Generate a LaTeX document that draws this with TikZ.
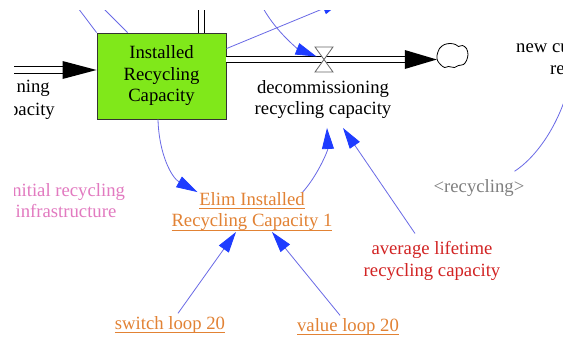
\documentclass[tikz,border=0pt]{standalone}
\usepackage{fontspec}
\setmainfont{Liberation Serif}
\usetikzlibrary{arrows.meta,calc}
\definecolor{stockgreen}{RGB}{128,232,26}
\definecolor{linkblue}{RGB}{105,105,230}
\definecolor{headblue}{RGB}{30,60,255}
\definecolor{orangetxt}{RGB}{226,130,52}
\definecolor{pinktxt}{RGB}{226,122,192}
\definecolor{redtxt}{RGB}{210,36,36}
\definecolor{greytxt}{RGB}{128,128,128}
\newcommand{\myul}[1]{\sbox0{#1}\rlap{\usebox0}\rule[-4pt]{\wd0}{1.1pt}}
\begin{document}
\begin{tikzpicture}[x=1pt,y=-1pt,
  every node/.style={font=\fontsize{18.7}{21.5}\selectfont, inner sep=0pt, align=center},
  stock/.style={draw=black!80, fill=stockgreen, line width=0.9pt, minimum width=129pt, minimum height=86pt},
  pipe/.style={draw=black, double=white, double distance=5.5pt, line width=0.9pt},
  flowhead/.style={fill=black},
  link/.style={draw=linkblue, line width=0.8pt, -{Triangle[length=21pt,width=12pt,color=headblue]}},
  linkplain/.style={draw=linkblue, line width=0.8pt},
  valvestyle/.style={draw=black!60, fill=white, line width=0.8pt},
  cloudline/.style={draw=black, line width=0.8pt, fill=white}
]
\useasboundingbox (0,0) rectangle (563,340);
\fill[white] (0,0) rectangle (563,340);
\clip (14,10) rectangle (563,340);

% stock
\node[stock] (stock) at (161.5,76) {Installed\\Recycling\\Capacity};

% cloud
\node[minimum width=31pt, minimum height=25pt] (cloud) at (452.5,55.5) {};
\begin{scope}[shift={(cloud.center)}]
\draw[cloudline] plot[smooth cycle, tension=0.55] coordinates {(-15.5,0) (-13,-7) (-8,-11) (-2,-12) (3,-11) (6,-9) (10,-10) (14,-7) (15.5,-1) (14,5) (11,9) (6,10) (2,12) (-4,11) (-8,12) (-12,9) (-15,5)};
\end{scope}

% coordinates
\coordinate (valve) at (324,59.5);
\coordinate (inL) at (0,70);
\coordinate (topP) at (201.5,0);
\coordinate (offA) at (72,0);
\coordinate (offB) at (95,0);
\coordinate (offC) at (258,-2);
\coordinate (offD) at (343,0.5);
\coordinate (offE) at (566,96);

% pipes
\draw[pipe] (inL) -- ($(inL -| stock.west)+(-33,0)$);
\fill[flowhead] ($(inL -| stock.west)+(-34,-9)$) -- (inL -| stock.west) -- ($(inL -| stock.west)+(-34,9)$) -- cycle;
\draw[pipe] (topP) -- (topP |- stock.north);
\draw[pipe] (valve -| stock.east) -- ($(valve -| cloud.west)+(-31,0)$);
\fill[flowhead] ($(valve -| cloud.west)+(-32,-9.5)$) -- (valve -| cloud.west) -- ($(valve -| cloud.west)+(-32,9.5)$) -- cycle;
\draw[valvestyle] ($(valve)+(-9,-12.5)$) -- ($(valve)+(9,-12.5)$) -- (valve) -- cycle;
\draw[valvestyle] ($(valve)+(-9,12.5)$) -- ($(valve)+(9,12.5)$) -- (valve) -- cycle;

% labels
\node (dec) at (323,99.5) {decommissioning\\recycling capacity};
\node[text=orangetxt] (elim) at (252,211.5) {\myul{Elim Installed}\\\myul{Recycling Capacity 1}};
\node[text=pinktxt] (init) at (66,200.5) {initial recycling\\infrastructure};
\node[text=redtxt] (avg) at (432,261) {average lifetime\\recycling capacity};
\node[text=greytxt] (recy) at (479,188) {<recycling>};
\node[text=orangetxt] (switch) at (170,325) {\myul{switch loop 20}};
\node[text=orangetxt] (value) at (348,327) {\myul{value loop 20}};
\node[anchor=east] (ning) at (50,88) {ning};
\node[anchor=east] (pac) at (55,111) {pacity};
\node[anchor=west] (newcu) at (516,48) {new cu};
\node[anchor=west] (re) at (550,70) {re};

% connectors
\draw[linkplain] (stock.north west) -- (offA);
\draw[linkplain] ([xshift=31pt]stock.north west) -- (offB);
\draw[link] ([yshift=27.4pt]stock.east) -- (offD);
\draw[link, shorten >=8pt] (offC) .. controls (272,30) and (300,50) .. (valve);
\draw[link] ([xshift=-3.5pt]stock.south) .. controls (159,155) and (172,178) .. ([xshift=26pt]elim.north west);
\draw[link] ([xshift=-30pt]elim.north east) .. controls (318,175) and (328,150) .. ([shift={(4pt,-9pt)}]dec.south);
\draw[link] ([shift={(-17pt,8pt)}]avg.north) -- ([shift={(20pt,-9pt)}]dec.south);
\draw[link] ([shift={(8pt,3pt)}]switch.north) -- ([shift={(-16pt,-1pt)}]elim.south);
\draw[link] ([shift={(-8pt,3pt)}]value.north) -- ([shift={(20pt,-1pt)}]elim.south);
\draw[linkplain] ([shift={(-10pt,8pt)}]recy.north east) .. controls (535,158) and (555,130) .. (offE);
\end{tikzpicture}
\end{document}
